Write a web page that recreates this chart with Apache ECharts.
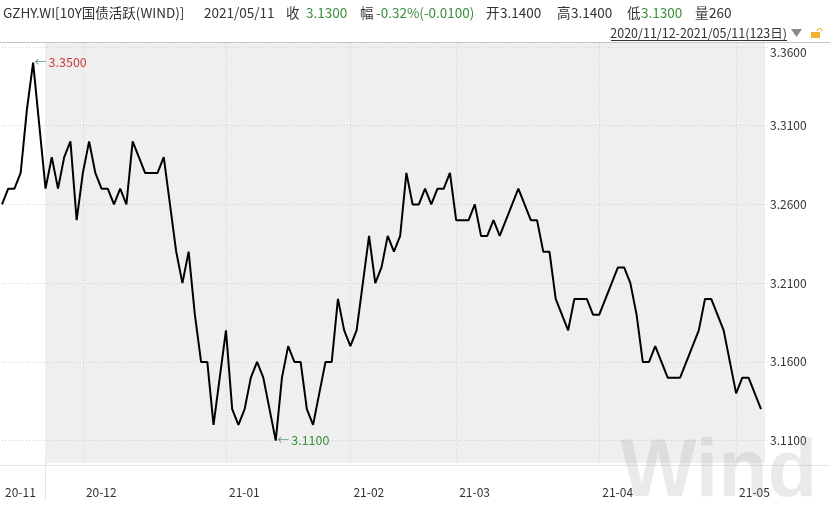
<!DOCTYPE html>
<html>
<head>
<meta charset="utf-8">
<script src="https://cdn.jsdelivr.net/npm/echarts@6/dist/echarts.min.js"></script>
<style>
  html, body { margin: 0; padding: 0; background: #fff; }
  #chart { width: 830px; height: 508px; }
</style>
</head>
<body>
<div id="chart"></div>
<script>
// 交易日 2020/11/12 - 2021/05/11 (123日)
const dates = [
  "2020-11-12","2020-11-13","2020-11-16","2020-11-17","2020-11-18","2020-11-19","2020-11-20","2020-11-23","2020-11-24","2020-11-25","2020-11-26","2020-11-27","2020-11-30",
  "2020-12-01","2020-12-02","2020-12-03","2020-12-04","2020-12-07","2020-12-08","2020-12-09","2020-12-10","2020-12-11","2020-12-14","2020-12-15","2020-12-16","2020-12-17","2020-12-18","2020-12-21","2020-12-22","2020-12-23","2020-12-24","2020-12-25","2020-12-28","2020-12-29","2020-12-30","2020-12-31",
  "2021-01-04","2021-01-05","2021-01-06","2021-01-07","2021-01-08","2021-01-11","2021-01-12","2021-01-13","2021-01-14","2021-01-15","2021-01-18","2021-01-19","2021-01-20","2021-01-21","2021-01-22","2021-01-25","2021-01-26","2021-01-27","2021-01-28","2021-01-29",
  "2021-02-01","2021-02-02","2021-02-03","2021-02-04","2021-02-05","2021-02-07","2021-02-08","2021-02-09","2021-02-10","2021-02-18","2021-02-19","2021-02-20","2021-02-22","2021-02-23","2021-02-24","2021-02-25","2021-02-26",
  "2021-03-01","2021-03-02","2021-03-03","2021-03-04","2021-03-05","2021-03-08","2021-03-09","2021-03-10","2021-03-11","2021-03-12","2021-03-15","2021-03-16","2021-03-17","2021-03-18","2021-03-19","2021-03-22","2021-03-23","2021-03-24","2021-03-25","2021-03-26","2021-03-29","2021-03-30","2021-03-31",
  "2021-04-01","2021-04-02","2021-04-06","2021-04-07","2021-04-08","2021-04-09","2021-04-12","2021-04-13","2021-04-14","2021-04-15","2021-04-16","2021-04-19","2021-04-20","2021-04-21","2021-04-22","2021-04-23","2021-04-25","2021-04-26","2021-04-27","2021-04-28","2021-04-29","2021-04-30",
  "2021-05-06","2021-05-07","2021-05-08","2021-05-10","2021-05-11"
];

// 收盘价
const closeValues = [
  3.26, 3.27, 3.27, 3.28, 3.32, 3.35, 3.31, 3.27, 3.29, 3.27,
  3.29, 3.30, 3.25, 3.28, 3.30, 3.28, 3.27, 3.27, 3.26, 3.27,
  3.26, 3.30, 3.29, 3.28, 3.28, 3.28, 3.29, 3.26, 3.23, 3.21,
  3.23, 3.19, 3.16, 3.16, 3.12, 3.15, 3.18, 3.13, 3.12, 3.13,
  3.15, 3.16, 3.15, 3.13, 3.11, 3.15, 3.17, 3.16, 3.16, 3.13,
  3.12, 3.14, 3.16, 3.16, 3.20, 3.18, 3.17, 3.18, 3.21, 3.24,
  3.21, 3.22, 3.24, 3.23, 3.24, 3.28, 3.26, 3.26, 3.27, 3.26,
  3.27, 3.27, 3.28, 3.25, 3.25, 3.25, 3.26, 3.24, 3.24, 3.25,
  3.24, 3.25, 3.26, 3.27, 3.26, 3.25, 3.25, 3.23, 3.23, 3.20,
  3.19, 3.18, 3.20, 3.20, 3.20, 3.19, 3.19, 3.20, 3.21, 3.22,
  3.22, 3.21, 3.19, 3.16, 3.16, 3.17, 3.16, 3.15, 3.15, 3.15,
  3.16, 3.17, 3.18, 3.20, 3.20, 3.19, 3.18, 3.16, 3.14, 3.15,
  3.15, 3.14, 3.13
];

// 右侧刻度
const yTicks = [3.11, 3.16, 3.21, 3.26, 3.31, 3.36];

const FONT = '"Noto Sans CJK SC", "Noto Sans", sans-serif';
const GREEN = "#3b8f3b";

// 月初位置
function isMonthStart(index) {
  return index > 0 && dates[index].slice(0, 7) !== dates[index - 1].slice(0, 7);
}

function txt(x, y, text, fill, size) {
  return {
    type: "text",
    x: x,
    y: y,
    style: {
      text: text,
      fill: fill || "#333",
      font: (size || 13.5) + "px " + FONT,
      verticalAlign: "middle",
      align: "left",
    },
  };
}

const myChart = echarts.init(document.getElementById("chart"));

const option = {
  animation: false,
  grid: {
    left: 2,
    right: 69,
    top: 43,
    bottom: 45,
  },
  xAxis: {
    type: "category",
    data: dates,
    boundaryGap: false,
    axisLine: { show: false },
    axisTick: { show: false },
    axisLabel: {
      interval: function (index) {
        return index === 0 || isMonthStart(index);
      },
      formatter: function (v) {
        return v.slice(2, 7);
      },
      align: "left",
      padding: [0, 0, 0, 3],
      margin: 23,
      color: "#333",
      fontSize: 12,
      fontFamily: FONT,
    },
    splitLine: {
      show: true,
      interval: function (index) {
        return isMonthStart(index);
      },
      lineStyle: { color: "#d2d2d2", type: [1, 2], width: 1 },
    },
  },
  yAxis: {
    type: "value",
    position: "right",
    min: 3.0958,
    max: 3.3625,
    axisLine: { show: false },
    axisTick: {
      show: true,
      customValues: yTicks,
      length: 7,
      lineStyle: { color: "#d2d2d2", type: [1, 2] },
    },
    axisLabel: {
      customValues: yTicks,
      margin: 9,
      color: "#333",
      fontSize: 12,
      fontFamily: FONT,
      formatter: function (v) {
        //顶部刻度稍微下移
        if (Math.abs(v - 3.36) < 1e-6) return "{top|" + v.toFixed(4) + "}";
        return v.toFixed(4);
      },
      rich: {
        top: { padding: [11, 0, 0, 0], fontSize: 12, fontFamily: FONT, color: "#333" },
      },
    },
    splitLine: {
      show: true,
      lineStyle: { color: "#d2d2d2", type: [1, 2], width: 1 },
    },
  },
  graphic: [
    // 灰色区域
    {
      type: "rect",
      z: -10,
      silent: true,
      shape: { x: 45, y: 43, width: 720, height: 420 },
      style: { fill: "#efefef" },
    },
    {
      type: "line",
      z: -5,
      shape: { x1: 0, y1: 42.5, x2: 830, y2: 42.5 },
      style: { stroke: "#c4c4c4", lineWidth: 1 },
    },
    {
      type: "line",
      z: -5,
      shape: { x1: 0, y1: 465.5, x2: 830, y2: 465.5 },
      style: { stroke: "#e6e6e6", lineWidth: 1 },
    },
    {
      type: "line",
      z: -5,
      shape: { x1: 45.5, y1: 463, x2: 45.5, y2: 500 },
      style: { stroke: "#e6e6e6", lineWidth: 1 },
    },
    // 标题栏
    txt(3, 12.5, "GZHY.WI[10Y国债活跃(WIND)]"),
    txt(204, 12.5, "2021/05/11"),
    txt(286, 12.5, "收"),
    txt(306, 12.5, "3.1300", GREEN),
    txt(360, 12.5, "幅"),
    txt(376, 12.5, "-0.32%(-0.0100)", GREEN),
    txt(486, 12.5, "开"),
    txt(500, 12.5, "3.1400"),
    txt(557, 12.5, "高"),
    txt(571, 12.5, "3.1400"),
    txt(627, 12.5, "低"),
    txt(641, 12.5, "3.1300", GREEN),
    txt(695, 12.5, "量"),
    txt(709, 12.5, "260"),
    // 区间
    {
      type: "text",
      x: 787,
      y: 33,
      style: {
        text: "2020/11/12-2021/05/11(123日)",
        fill: "#333",
        font: "12.5px " + FONT,
        align: "right",
        verticalAlign: "middle",
      },
    },
    {
      type: "line",
      shape: { x1: 611, y1: 40.5, x2: 787, y2: 40.5 },
      style: { stroke: "#333", lineWidth: 1 },
    },
    {
      type: "polygon",
      shape: { points: [[791, 29], [802, 29], [796.5, 37]] },
      style: { fill: "#8a8a8a" },
    },
    {
      type: "rect",
      shape: { x: 811, y: 32, width: 9, height: 6 },
      style: { fill: "#f0b030" },
    },
    {
      type: "arc",
      shape: { cx: 819.5, cy: 31, r: 2.5, startAngle: Math.PI, endAngle: 0, clockwise: true },
      style: { stroke: "#e8a020", lineWidth: 1, fill: null },
    },
    // 水印
    {
      type: "text",
      x: 620,
      y: 474,
      z: 100,
      silent: true,
      style: {
        text: "Wind",
        fill: "rgba(150,150,150,0.2)",
        font: 'bold 81px "Liberation Sans", Arial, sans-serif',
        align: "left",
        verticalAlign: "middle",
      },
    },
  ],
  series: [
    {
      type: "line",
      data: closeValues,
      symbol: "none",
      lineStyle: { color: "#000", width: 2 },
      markPoint: {
        symbol: "circle",
        symbolSize: 1,
        itemStyle: { color: "rgba(0,0,0,0)" },
        label: {
          show: true,
          position: "right",
          distance: 1,
          fontFamily: FONT,
          rich: {
            a: { color: "#5a9a9a", fontSize: 12, fontFamily: FONT },
            r: { color: "#c83c3c", fontSize: 12.5, fontFamily: FONT, padding: [0, 0, 0, 2] },
            g: { color: GREEN, fontSize: 12.5, fontFamily: FONT, padding: [0, 0, 0, 2] },
          },
        },
        data: [
          {
            type: "max",
            label: {
              formatter: function (p) {
                return "{a|←}{r|" + p.value.toFixed(4) + "}";
              },
            },
          },
          {
            type: "min",
            label: {
              formatter: function (p) {
                return "{a|←}{g|" + p.value.toFixed(4) + "}";
              },
            },
          },
        ],
      },
    },
  ],
};

myChart.setOption(option);
window.addEventListener("resize", function () {
  myChart.resize();
});
</script>
</body>
</html>
